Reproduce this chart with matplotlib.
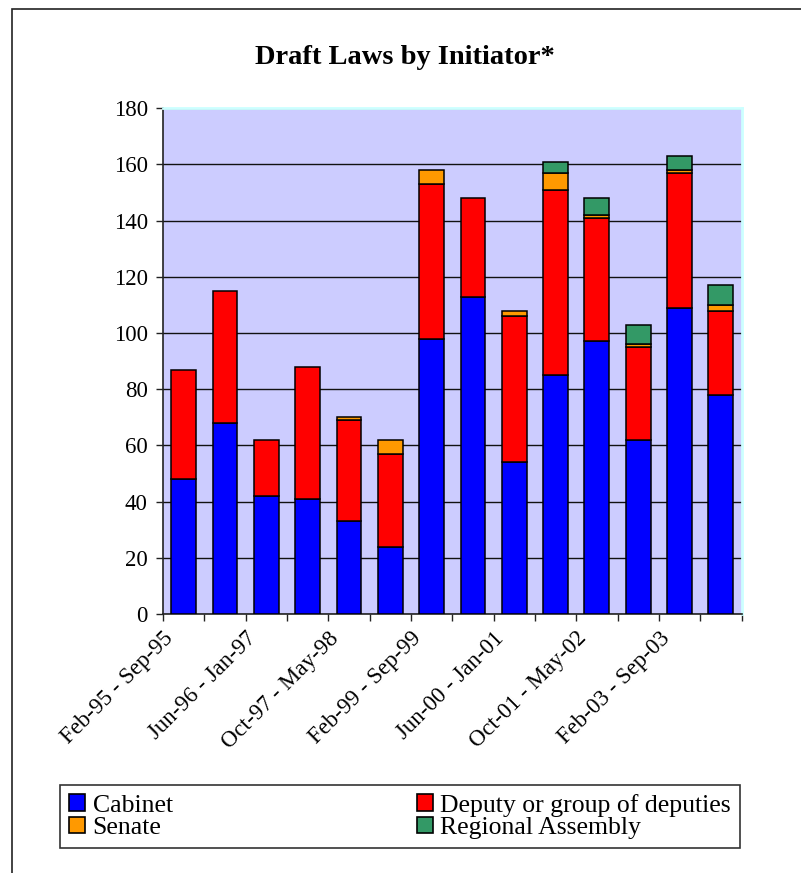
import numpy as np
import matplotlib
matplotlib.use("Agg")
import matplotlib.pyplot as plt
from matplotlib.patches import Rectangle, Patch

plt.rcParams["font.family"] = ["Liberation Serif", "DejaVu Serif"]

# values (14 periods)
cabinet = [48, 68, 42, 41, 33, 24, 98, 113, 54, 85, 97, 62, 109, 78]
deputy = [39, 47, 20, 47, 36, 33, 55, 35, 52, 66, 44, 33, 48, 30]
senate = [0, 0, 0, 0, 1, 5, 5, 0, 2, 6, 1, 1, 1, 2]
regional = [0, 0, 0, 0, 0, 0, 0, 0, 0, 4, 6, 7, 5, 7]

period_labels = ["Feb-95 - Sep-95", "Jun-96 - Jan-97", "Oct-97 - May-98",
                 "Feb-99 - Sep-99", "Jun-00 - Jan-01", "Oct-01 - May-02",
                 "Feb-03 - Sep-03"]

series = [
    ("Cabinet", cabinet, "#0000ff"),
    ("Senate", senate, "#ff9900"),
    ("Deputy or group of deputies", deputy, "#ff0000"),
    ("Regional Assembly", regional, "#339966"),
]
stack_order = [0, 2, 1, 3]  # cabinet, deputy, senate, regional from bottom

fig = plt.figure(figsize=(8.01, 8.73), dpi=100)
ax = fig.add_axes([163 / 801, 1 - 614 / 873, (741.5 - 163) / 801, (614 - 108.3) / 873])
ax.set_facecolor("#ccccff")

x = np.arange(len(cabinet))
bottom = np.zeros(len(cabinet))
for i in stack_order:
    name, vals, color = series[i]
    vals = np.array(vals, dtype=float)
    lws = [1.1 if v > 0 else 0 for v in vals]
    ax.bar(x, vals, width=0.6, bottom=bottom, color=color,
           edgecolor="black", linewidth=lws, zorder=3)
    bottom += vals

ax.set_xlim(-0.5, len(cabinet) - 0.5)
ax.set_ylim(0, 180)
ax.set_yticks(np.arange(0, 181, 20))
ax.yaxis.grid(True, color="#111111", linewidth=1.0)
ax.set_axisbelow(True)

bounds = np.arange(-0.5, len(cabinet), 1)
ax.set_xticks(bounds)
tick_text = [""] * len(bounds)
for k, lab in enumerate(period_labels):
    tick_text[2 * k] = lab
ax.set_xticklabels(tick_text, rotation=45, ha="right", va="top",
                   rotation_mode="anchor")

ax.tick_params(axis="both", direction="out", length=5, width=1,
               labelsize=16.5, color="#222222")
ax.tick_params(axis="y", pad=6)
ax.tick_params(axis="x", pad=5)

for side in ["left", "bottom"]:
    ax.spines[side].set_color("#222222")
    ax.spines[side].set_linewidth(1.2)
for side in ["top", "right"]:
    ax.spines[side].set_color("#ccffff")
    ax.spines[side].set_linewidth(2)

fig.text(0.506, 1 - 58 / 873, "Draft Laws by Initiator*", ha="center",
         va="center", fontsize=20.5, fontweight="bold")

leg_handles = [Patch(facecolor=s[2], edgecolor="black", linewidth=1.2)
               for s in series]
leg = fig.legend(leg_handles, [s[0] for s in series], ncol=2,
                 loc="lower left", mode="expand",
                 bbox_to_anchor=(60 / 801, 1 - 848 / 873, 680 / 801, 62 / 873),
                 borderaxespad=0, fontsize=18.5, frameon=True, fancybox=False,
                 edgecolor="black", handlelength=0.62, handleheight=0.62,
                 handletextpad=0.3, labelspacing=0.0, borderpad=0.35,
                 columnspacing=1.0)
leg.get_frame().set_linewidth(1.2)

# outer chart frame, cut off at the right and bottom of the picture
fig.add_artist(Rectangle((12 / 801, -0.5), 2, 1.5 - 9 / 873,
                         transform=fig.transFigure, fill=False,
                         edgecolor="#222222", linewidth=1.2))

fig.savefig("out.png", dpi=100)
